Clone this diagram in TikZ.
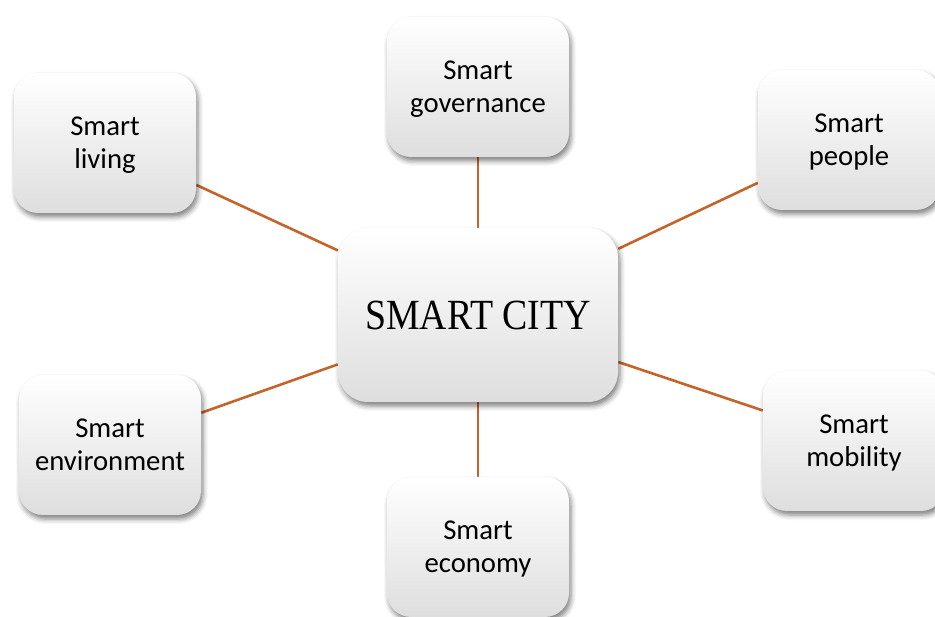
\documentclass[tikz,border=0pt]{standalone}
\usepackage{fontspec}
\setmainfont{Carlito}
\newfontfamily\cityfont[FakeStretch=0.88]{Liberation Serif}
\usetikzlibrary{shadows.blur}
\definecolor{linkc}{RGB}{196,100,42}
\pgfdeclarelayer{background}
\pgfsetlayers{background,main}
\begin{document}
\begin{tikzpicture}[x=1pt,y=-1pt,
  boxbase/.style={rectangle, align=center, inner sep=0pt,
    top color=white, middle color=white, bottom color=black!13,
    blur shadow={shadow xshift=2pt, shadow yshift=-4pt, shadow blur radius=5pt, shadow opacity=50}},
  smallbox/.style={boxbase, rounded corners=24pt, minimum width=182pt, minimum height=140pt,
    text height=57.5pt, text depth=7pt,
    font=\fontsize{28.7}{33}\selectfont},
  citybox/.style={boxbase, rounded corners=30pt, minimum width=280pt, minimum height=174pt,
    font=\cityfont\fontsize{43}{48}\selectfont},
  link/.style={draw=linkc, line width=2.6pt}]
\useasboundingbox (0,0) rectangle (935,617);
\clip (0,0) rectangle (935,617);
\node[citybox] (city) at (478,315) {SMART CITY};
\node[smallbox] (gov) at (478,87) {Smart\\governance};
\node[smallbox] (liv) at (105,143) {Smart\\living};
\node[smallbox] (peo) at (849,140) {Smart\\people};
\node[smallbox] (env) at (110,445) {Smart\\environment};
\node[smallbox] (mob) at (854,441) {Smart\\mobility};
\node[smallbox] (eco) at (478,547) {Smart\\economy};
\begin{pgfonlayer}{background}
\draw[link] (city) -- (gov);
\draw[link] (city) -- (liv);
\draw[link] (city) -- (peo);
\draw[link] (city) -- (env);
\draw[link] (city) -- (mob);
\draw[link] (city) -- (eco);
\end{pgfonlayer}
\end{tikzpicture}
\end{document}
